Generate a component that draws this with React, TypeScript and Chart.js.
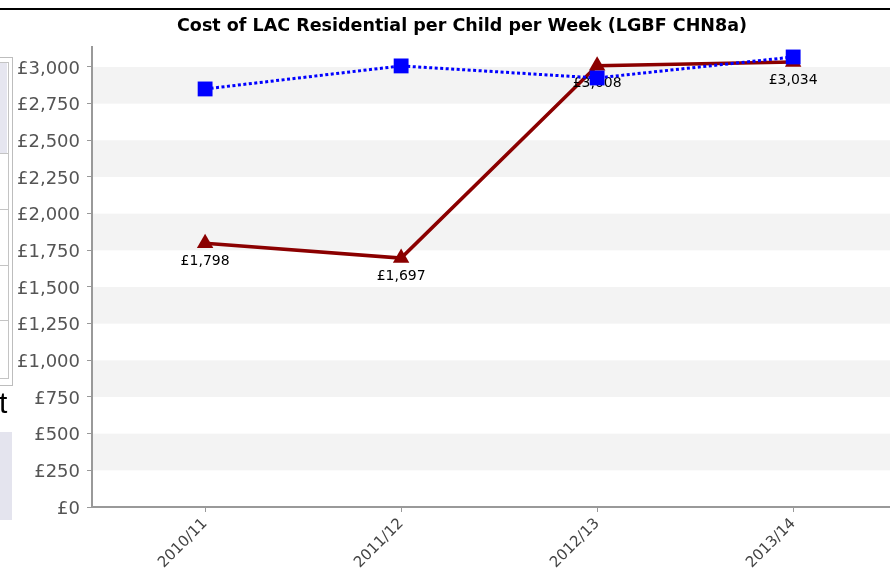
import React, { useEffect, useRef } from 'react';
import { Chart, registerables } from 'chart.js';

Chart.register(...registerables);

const TITLE = 'Cost of LAC Residential per Child per Week (LGBF CHN8a)';
const categories = ['2010/11', '2011/12', '2012/13', '2013/14'];
const councilValues = [1798, 1697, 3008, 3034];
const comparatorValues = [2850, 3007, 2925, 3068];
const yTickValues = [0, 250, 500, 750, 1000, 1250, 1500, 1750, 2000, 2250, 2500, 2750, 3000];

const fmt = (v: number) => '£' + Math.round(v).toLocaleString('en-GB');

const bandsPlugin = {
  id: 'bands',
  beforeDraw(chart: any) {
    const { ctx, chartArea } = chart;
    const y = chart.scales.y;
    ctx.save();
    ctx.fillStyle = '#f3f3f3';
    for (let i = 1; i < yTickValues.length - 1; i += 2) {
      const top = y.getPixelForValue(yTickValues[i + 1]);
      const bot = y.getPixelForValue(yTickValues[i]);
      ctx.fillRect(chartArea.left, top, chartArea.right - chartArea.left, bot - top);
    }
    ctx.restore();
  },
};

const titlePlugin = {
  id: 'customTitle',
  afterDraw(chart: any) {
    const { ctx } = chart;
    ctx.save();
    ctx.font = 'bold 18px "DejaVu Sans"';
    ctx.fillStyle = '#000';
    ctx.textAlign = 'center';
    ctx.textBaseline = 'middle';
    ctx.fillText(TITLE, 462, 26, 570);
    ctx.restore();
  },
};

const labelsPlugin = {
  id: 'pointLabels',
  afterDatasetDraw(chart: any, args: any) {
    if (args.index !== 1) return;
    const { ctx } = chart;
    const meta = chart.getDatasetMeta(1);
    ctx.save();
    ctx.font = '14px "DejaVu Sans"';
    ctx.fillStyle = '#000';
    ctx.textAlign = 'center';
    ctx.textBaseline = 'middle';
    meta.data.forEach((pt: any, i: number) => {
      ctx.fillText(fmt(councilValues[i]), pt.x, pt.y + 18);
    });
    ctx.restore();
  },
};

export default function App() {
  const ref = useRef<HTMLCanvasElement | null>(null);

  useEffect(() => {
    if (!ref.current) return;
    const chart = new Chart(ref.current, {
      type: 'line',
      data: {
        datasets: [
          {
            label: 'Comparator',
            data: comparatorValues.map((v, i) => ({ x: i, y: v })),
            borderColor: '#0000ff',
            backgroundColor: '#0000ff',
            borderWidth: 3,
            borderDash: [3, 2.5],
            pointStyle: 'rect',
            pointRadius: 10.5,
            pointBorderWidth: 0,
            pointBackgroundColor: '#0000ff',
            tension: 0,
          },
          {
            label: 'Council',
            data: councilValues.map((v, i) => ({ x: i, y: v })),
            borderColor: '#8b0000',
            backgroundColor: '#8b0000',
            borderWidth: 3.5,
            pointStyle: 'triangle',
            pointRadius: 9.5,
            pointBorderWidth: 0,
            pointBackgroundColor: '#8b0000',
            tension: 0,
          },
        ],
      },
      options: {
        responsive: false,
        animation: false,
        layout: { autoPadding: false, padding: { top: 47, left: 0, right: 0, bottom: 0 } },
        plugins: {
          legend: { display: false },
          title: { display: false },
          tooltip: { enabled: false },
        },
        scales: {
          x: {
            type: 'linear',
            min: -0.577,
            max: 3.494,
            afterBuildTicks: (axis: any) => {
              axis.ticks = categories.map((_, i) => ({ value: i }));
            },
            afterFit: (axis: any) => {
              axis.height = 65;
              axis.paddingRight = 0;
              axis.paddingLeft = 0;
            },
            ticks: {
              callback: (v: any) => categories[v] ?? '',
              minRotation: 45,
              maxRotation: 45,
              autoSkip: false,
              font: { family: '"DejaVu Sans"', size: 15 },
              color: '#444',
              padding: 3,
            },
            grid: { drawOnChartArea: false, tickLength: 5, color: '#999' },
            border: { color: '#999', width: 2 },
          },
          y: {
            min: 0,
            max: 3136,
            afterBuildTicks: (axis: any) => {
              axis.ticks = yTickValues.map((v) => ({ value: v }));
            },
            afterFit: (axis: any) => {
              axis.width = 92;
              axis.paddingTop = 0;
            },
            ticks: {
              callback: (v: any) => fmt(Number(v)),
              font: { family: '"DejaVu Sans"', size: 18 },
              color: '#555',
              padding: 7,
              labelOffset: 2,
            },
            grid: { drawOnChartArea: false, tickLength: 5, color: '#999' },
            border: { color: '#999', width: 2 },
          },
        },
      },
      plugins: [bandsPlugin, titlePlugin, labelsPlugin],
    });
    return () => chart.destroy();
  }, []);

  const abs = (s: any) => ({ position: 'absolute' as const, ...s });

  return (
    <div style={abs({ left: 0, top: 0, width: 890, height: 572, background: '#fff', overflow: 'hidden' })}>
      <canvas ref={ref} width={890} height={572} style={abs({ left: 0, top: 0, width: 890, height: 572 })} />
      <div style={abs({ left: 0, top: 8, width: 890, height: 2, background: '#000' })} />
      <div style={abs({ left: -1, top: 57, width: 12, height: 327, border: '1px solid #bdbdbd', background: '#fff' })} />
      <div style={abs({ left: -1, top: 62, width: 8, height: 315, border: '1px solid #c4c4c4', background: '#fff' })} />
      <div style={abs({ left: 0, top: 63, width: 7, height: 90, background: '#e6e6f0' })} />
      <div style={abs({ left: 0, top: 153, width: 8, height: 1, background: '#c4c4c4' })} />
      <div style={abs({ left: 0, top: 209, width: 8, height: 1, background: '#c4c4c4' })} />
      <div style={abs({ left: 0, top: 265, width: 8, height: 1, background: '#c4c4c4' })} />
      <div style={abs({ left: 0, top: 320, width: 8, height: 1, background: '#c4c4c4' })} />
      <div style={abs({ left: -1, top: 386, font: '30px "Liberation Sans"', color: '#000', lineHeight: '34px' })}>t</div>
      <div style={abs({ left: 0, top: 432, width: 12, height: 88, background: '#e4e4ee' })} />
    </div>
  );
}
